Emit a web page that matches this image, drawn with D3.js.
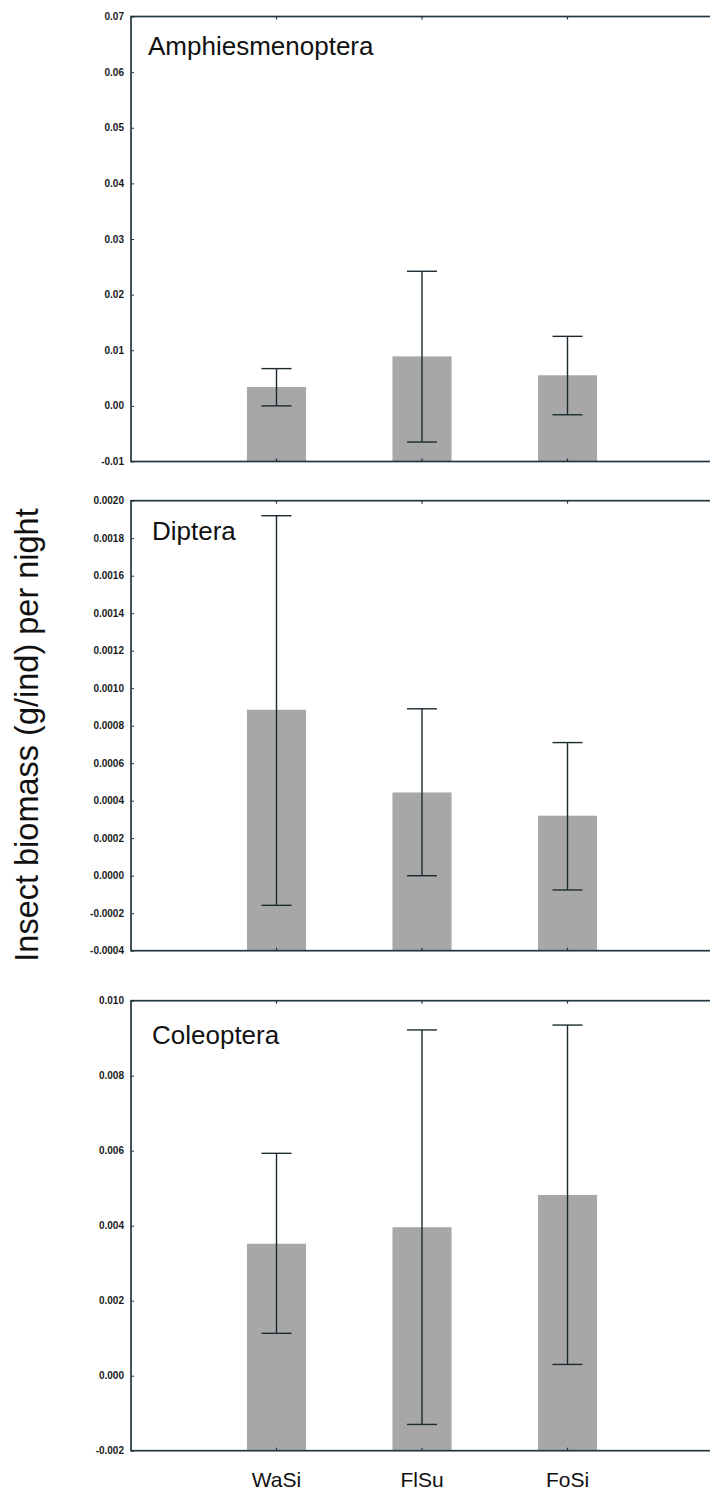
<!DOCTYPE html>
<html>
<head>
<meta charset="utf-8">
<script src="https://cdn.jsdelivr.net/npm/d3@7"></script>
<style>
  body { margin: 0; background: #fff; }
  svg { display: block; font-family: "Liberation Sans", Arial, sans-serif; }
</style>
</head>
<body>
<div id="chart"></div>
<script>
// categories on the x axis
const categories = ["WaSi", "FlSu", "FoSi"];

// panel names
const taxa = ["Amphiesmenoptera", "Diptera", "Coleoptera"];

// mean biomass per site, per panel
const amphMean = [0.0034, 0.0089, 0.0055];
const amphLow = [0.0000, -0.0065, -0.0016];
const amphHigh = [0.0067, 0.0242, 0.0125];
const amphTicks = [-0.01, 0.00, 0.01, 0.02, 0.03, 0.04, 0.05, 0.06, 0.07];

const dipMean = [0.000885, 0.000444, 0.00032];
const dipLow = [-0.000158, 0.0000, -0.000076];
const dipHigh = [0.00192, 0.00089, 0.00071];
const dipTicks = [-0.0004, -0.0002, 0.0000, 0.0002, 0.0004, 0.0006, 0.0008,
  0.0010, 0.0012, 0.0014, 0.0016, 0.0018, 0.0020];

const colMean = [0.00352, 0.00396, 0.00482];
const colLow = [0.00113, -0.0013, 0.0003];
const colHigh = [0.00593, 0.00922, 0.00935];
const colTicks = [-0.002, 0.000, 0.002, 0.004, 0.006, 0.008, 0.010];

const W = 710, H = 1495;
const svg = d3.select("#chart").append("svg")
  .attr("width", W)
  .attr("height", H);

// shared x scale, category i sits at i + 1, right edge runs off the page
const x = d3.scaleLinear().domain([0, 4]).range([131, 713]);
const barHalf = x(0.203) - x(0);

const panels = [
  { name: taxa[0], mean: amphMean, low: amphLow, high: amphHigh, ticks: amphTicks, fmt: ".2f", top: 16.5, bottom: 461.5, labelY: 55, labelX: 148 },
  { name: taxa[1], mean: dipMean, low: dipLow, high: dipHigh, ticks: dipTicks, fmt: ".4f", top: 500.7, bottom: 950.7, labelY: 540, labelX: 152 },
  { name: taxa[2], mean: colMean, low: colLow, high: colHigh, ticks: colTicks, fmt: ".3f", top: 1000.7, bottom: 1450.7, labelY: 1044, labelX: 152 }
];

const axisColor = "#23363f";
const barColor = "#a7a7a7";
const errColor = "#1c2a30";

panels.forEach(p => {
  const y = d3.scaleLinear()
    .domain([p.ticks[0], p.ticks[p.ticks.length - 1]])
    .range([p.bottom, p.top]);
  const g = svg.append("g");
  const f = d3.format(p.fmt);

  // bars from the panel floor up to the mean
  g.selectAll("rect.bar")
    .data(p.mean)
    .join("rect")
    .attr("class", "bar")
    .attr("x", (d, i) => x(i + 1) - barHalf)
    .attr("y", d => y(d))
    .attr("width", barHalf * 2)
    .attr("height", d => y.range()[0] - y(d))
    .attr("fill", barColor);

  // error whiskers
  const err = g.selectAll("g.err")
    .data(p.mean.map((d, i) => ({ i, lo: p.low[i], hi: p.high[i] })))
    .join("g")
    .attr("class", "err")
    .attr("stroke", errColor)
    .attr("stroke-width", 1.4);
  err.append("line")
    .attr("x1", d => x(d.i + 1)).attr("x2", d => x(d.i + 1))
    .attr("y1", d => y(d.lo)).attr("y2", d => y(d.hi));
  err.append("line")
    .attr("x1", d => x(d.i + 1) - 15).attr("x2", d => x(d.i + 1) + 15)
    .attr("y1", d => y(d.hi)).attr("y2", d => y(d.hi));
  err.append("line")
    .attr("x1", d => x(d.i + 1) - 15).attr("x2", d => x(d.i + 1) + 15)
    .attr("y1", d => y(d.lo)).attr("y2", d => y(d.lo));

  // frame
  g.append("rect")
    .attr("x", x(0))
    .attr("y", p.top)
    .attr("width", x(4) - x(0))
    .attr("height", p.bottom - p.top)
    .attr("fill", "none")
    .attr("stroke", axisColor)
    .attr("stroke-width", 1.7);

  // left axis, ticks point inward
  const yAxis = g.append("g")
    .attr("transform", `translate(${x(0)},0)`)
    .call(d3.axisRight(y)
      .tickValues(p.ticks)
      .tickSize(3)
      .tickFormat(""));
  yAxis.select(".domain").remove();
  yAxis.selectAll("line").attr("stroke", axisColor);

  g.selectAll("text.ytick")
    .data(p.ticks)
    .join("text")
    .attr("class", "ytick")
    .attr("x", x(0) - 7)
    .attr("y", d => y(d))
    .attr("dy", "0.35em")
    .attr("text-anchor", "end")
    .attr("font-size", 10)
    .attr("font-weight", "bold")
    .attr("fill", "#1a1a1a")
    .text(d => f(d).replace("\u2212", "-"));

  // small category ticks on the top and bottom edges
  [p.top, p.bottom].forEach((yy, k) => {
    g.selectAll(null)
      .data(categories)
      .join("line")
      .attr("x1", (d, i) => x(i + 1)).attr("x2", (d, i) => x(i + 1))
      .attr("y1", yy).attr("y2", k === 0 ? yy + 3 : yy - 3)
      .attr("stroke", axisColor)
      .attr("stroke-width", 1.2);
  });

  g.append("text")
    .attr("x", p.labelX)
    .attr("y", p.labelY)
    .attr("font-size", 26)
    .attr("fill", "#111")
    .text(p.name);
});

// category labels under the last panel
svg.selectAll("text.xlab")
  .data(categories)
  .join("text")
  .attr("class", "xlab")
  .attr("x", (d, i) => x(i + 1))
  .attr("y", 1487)
  .attr("text-anchor", "middle")
  .attr("font-size", 21)
  .attr("fill", "#111")
  .text(d => d);

// shared y axis title
svg.append("text")
  .attr("transform", "translate(38,735) rotate(-90)")
  .attr("text-anchor", "middle")
  .attr("font-size", 32.5)
  .attr("fill", "#111")
  .text("Insect biomass (g/ind) per night");
</script>
</body>
</html>
